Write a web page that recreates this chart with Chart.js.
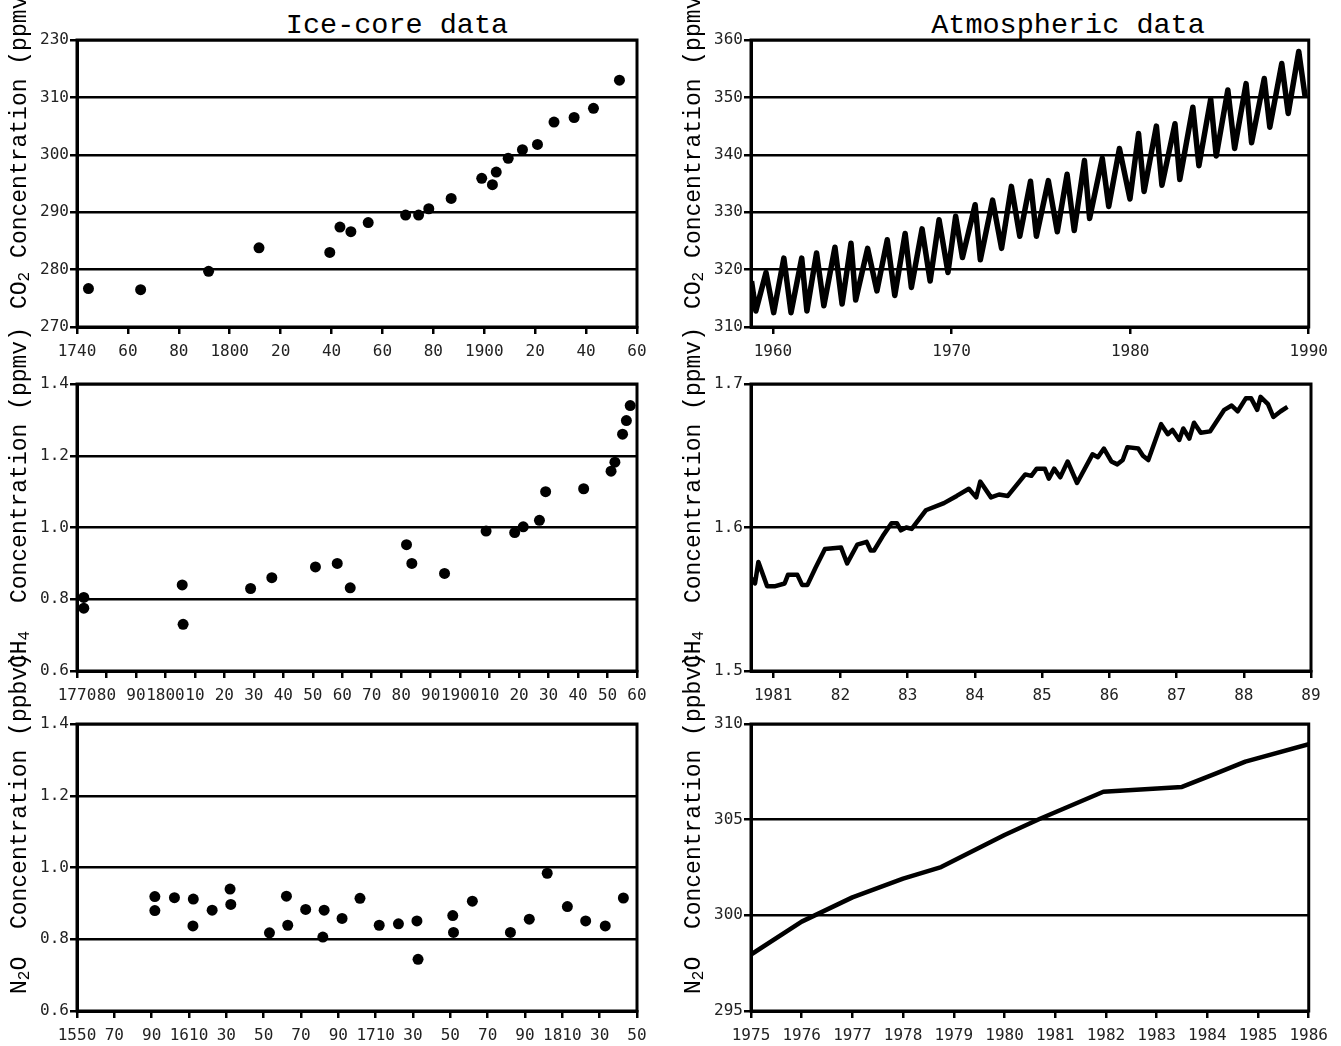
<!DOCTYPE html>
<html>
<head>
<meta charset="utf-8">
<title>Ice-core and atmospheric data</title>
<script src="https://cdn.jsdelivr.net/npm/chart.js@4.4.1/dist/chart.umd.min.js"></script>
<style>
  body { margin: 0; width: 1341px; height: 1046px; background: #fff; position: relative; overflow: hidden; }
  .panel { position: absolute; width: 645px; height: 339px; }
  .col-title { position: absolute; font-family: "Liberation Mono", monospace; font-size: 28.5px; line-height: 1; color: #000; white-space: nowrap; transform: translateX(-50%); }
  .y-title { position: absolute; font-family: "Liberation Mono", monospace; font-size: 23px; line-height: 23px; color: #000; white-space: pre; transform-origin: 0 0; transform: rotate(-90deg); z-index: 2; }
  .y-title sub { font-size: 70%; vertical-align: -0.2em; line-height: 0; }
</style>
</head>
<body>

<div class="col-title" style="left:397px; top:12px">Ice-core data</div>
<div class="col-title" style="left:1068px; top:12px">Atmospheric data</div>

<div class="y-title" style="left:9px; top:309px">CO<sub>2</sub> Concentration (ppmv)</div>
<div class="y-title" style="left:9px; top:668px">CH<sub>4</sub>  Concentration (ppmv)</div>
<div class="y-title" style="left:9px; top:994px">N<sub>2</sub>O  Concentration (ppbv)</div>
<div class="y-title" style="left:683px; top:309px">CO<sub>2</sub> Concentration (ppmv)</div>
<div class="y-title" style="left:683px; top:668px">CH<sub>4</sub>  Concentration (ppmv)</div>
<div class="y-title" style="left:683px; top:994px">N<sub>2</sub>O  Concentration (ppbv)</div>

<div class="panel" style="left:17px; top:28px"><canvas id="iceCo2Chart" width="645" height="339"></canvas></div>
<div class="panel" style="left:691px; top:28px"><canvas id="atmCo2Chart" width="645" height="339"></canvas></div>
<div class="panel" style="left:17px; top:372px"><canvas id="iceCh4Chart" width="645" height="339"></canvas></div>
<div class="panel" style="left:691px; top:372px"><canvas id="atmCh4Chart" width="645" height="339"></canvas></div>
<div class="panel" style="left:17px; top:712px"><canvas id="iceN2oChart" width="645" height="339"></canvas></div>
<div class="panel" style="left:691px; top:712px"><canvas id="atmN2oChart" width="645" height="339"></canvas></div>

<script>

// ice-core CO2 (ppmv)
const iceCo2Years = [1744.5, 1765.0, 1791.7, 1811.5, 1839.3, 1843.3, 1847.6, 1854.4, 1869.1, 1874.2, 1878.2,
  1887.0, 1899.0, 1903.2, 1904.7, 1909.4, 1915.0, 1920.9, 1927.4, 1935.3, 1942.9, 1953.1];
const iceCo2Values = [276.7, 276.5, 279.7, 283.8, 283.0, 287.4, 286.6, 288.2, 289.5, 289.5, 290.6,
  292.4, 295.9, 294.8, 297.0, 299.4, 300.9, 301.8, 305.7, 306.5, 308.1, 313.0];
const iceCo2XTicks = [1740, 1760, 1780, 1800, 1820, 1840, 1860, 1880, 1900, 1920, 1940, 1960];
const iceCo2XLabels = ['1740', '60', '80', '1800', '20', '40', '60', '80', '1900', '20', '40', '60'];
const iceCo2YTicks = [270, 280, 290, 300, 310, 320];
const iceCo2YLabels = ['270', '280', '290', '300', '310', '230'];

// atmospheric CO2 (ppmv), seasonal cycle
const atmCo2Years = [1958.80, 1959.04, 1959.61, 1960.04, 1960.61, 1961.01, 1961.61, 1961.90, 1962.44, 1962.85,
  1963.47, 1963.87, 1964.37, 1964.63, 1965.30, 1965.82, 1966.40, 1966.82, 1967.40, 1967.75,
  1968.35, 1968.80, 1969.30, 1969.80, 1970.23, 1970.61, 1971.32, 1971.61, 1972.30, 1972.80,
  1973.35, 1973.82, 1974.42, 1974.75, 1975.42, 1975.92, 1976.47, 1976.87, 1977.44, 1977.73,
  1978.44, 1978.80, 1979.40, 1979.99, 1980.47, 1980.78, 1981.47, 1981.78, 1982.51, 1982.78,
  1983.51, 1983.85, 1984.51, 1984.82, 1985.47, 1985.85, 1986.49, 1986.80, 1987.51, 1987.82,
  1988.49, 1988.85, 1989.44, 1989.80];
const atmCo2Values = [318.0, 312.8, 319.5, 312.5, 322.0, 312.5, 322.0, 312.8, 322.9, 313.7,
  323.9, 314.0, 324.6, 314.7, 323.7, 316.3, 325.2, 315.5, 326.3, 316.9,
  327.1, 318.0, 328.7, 319.5, 329.3, 322.1, 331.3, 321.7, 332.1, 323.7,
  334.5, 325.8, 335.4, 325.8, 335.5, 326.6, 336.6, 326.8, 339.0, 328.9,
  339.4, 331.0, 341.1, 332.3, 343.7, 333.6, 345.0, 334.7, 345.4, 335.7,
  348.3, 338.1, 349.7, 339.8, 351.3, 341.1, 352.4, 342.1, 353.3, 344.8,
  355.9, 347.2, 358.0, 350.1];
const atmCo2XTicks = [1960, 1970, 1980, 1990];
const atmCo2XLabels = ['1960', '1970', '1980', '1990'];
const atmCo2YTicks = [310, 320, 330, 340, 350, 360];
const atmCo2YLabels = ['310', '320', '330', '340', '350', '360'];

// ice-core CH4 (ppmv)
const iceCh4Years = [1772.3, 1772.3, 1805.7, 1806.0, 1828.9, 1836.1, 1850.9, 1858.3, 1862.7, 1881.8, 1883.6, 1894.7,
  1908.8, 1918.5, 1921.4, 1926.9, 1929.0, 1941.9, 1951.2, 1952.5, 1955.1, 1956.4, 1957.7];
const iceCh4Values = [0.805, 0.775, 0.840, 0.730, 0.830, 0.860, 0.890, 0.900, 0.832, 0.952, 0.900, 0.872,
  0.990, 0.986, 1.002, 1.020, 1.100, 1.108, 1.157, 1.182, 1.260, 1.298, 1.340];
const iceCh4XTicks = [1770, 1780, 1790, 1800, 1810, 1820, 1830, 1840, 1850, 1860,
  1870, 1880, 1890, 1900, 1910, 1920, 1930, 1940, 1950, 1960];
const iceCh4XLabels = ['1770', '80', '90', '1800', '10', '20', '30', '40', '50', '60',
  '70', '80', '90', '1900', '10', '20', '30', '40', '50', '60'];
const iceYTicks = [0.6, 0.8, 1.0, 1.2, 1.4];
const iceYLabels = ['0.6', '0.8', '1.0', '1.2', '1.4'];

// atmospheric CH4 (ppmv)
const atmCh4Years = [1980.67, 1980.73, 1980.78, 1980.91, 1981.02, 1981.17, 1981.22, 1981.36, 1981.43, 1981.51,
  1981.63, 1981.77, 1982.01, 1982.10, 1982.25, 1982.39, 1982.45, 1982.50, 1982.63, 1982.76,
  1982.84, 1982.90, 1982.98, 1983.06, 1983.27, 1983.54, 1983.73, 1983.91, 1984.02, 1984.08,
  1984.24, 1984.36, 1984.49, 1984.75, 1984.84, 1984.92, 1985.04, 1985.10, 1985.18, 1985.27,
  1985.38, 1985.52, 1985.75, 1985.83, 1985.92, 1986.03, 1986.12, 1986.20, 1986.27, 1986.43,
  1986.50, 1986.58, 1986.77, 1986.87, 1986.94, 1987.04, 1987.10, 1987.19, 1987.26, 1987.36,
  1987.50, 1987.71, 1987.82, 1987.91, 1988.03, 1988.11, 1988.20, 1988.25, 1988.36, 1988.44,
  1988.55, 1988.65];
const atmCh4Values = [1.565, 1.561, 1.576, 1.559, 1.559, 1.561, 1.567, 1.567, 1.560, 1.560,
  1.572, 1.585, 1.586, 1.575, 1.588, 1.590, 1.584, 1.584, 1.594, 1.603,
  1.603, 1.598, 1.600, 1.599, 1.612, 1.617, 1.622, 1.627, 1.621, 1.632,
  1.621, 1.623, 1.622, 1.637, 1.636, 1.641, 1.641, 1.634, 1.641, 1.635,
  1.646, 1.631, 1.651, 1.649, 1.655, 1.646, 1.644, 1.647, 1.656, 1.655,
  1.650, 1.647, 1.672, 1.665, 1.668, 1.661, 1.669, 1.662, 1.673, 1.666,
  1.667, 1.682, 1.685, 1.681, 1.690, 1.690, 1.682, 1.691, 1.686, 1.677,
  1.681, 1.684];
const atmCh4XTicks = [1981, 1982, 1983, 1984, 1985, 1986, 1987, 1988, 1989];
const atmCh4XLabels = ['1981', '82', '83', '84', '85', '86', '87', '88', '89'];
const atmCh4YTicks = [1.5, 1.6, 1.7];
const atmCh4YLabels = ['1.5', '1.6', '1.7'];

// ice-core N2O
const iceN2oYears = [1591.7, 1591.7, 1602.2, 1612.3, 1612.1, 1622.4, 1632.0, 1632.4, 1653.1, 1662.2,
  1662.9, 1672.5, 1682.4, 1681.7, 1692.0, 1701.6, 1711.9, 1722.2, 1732.1, 1732.7,
  1751.3, 1751.7, 1761.8, 1782.2, 1792.3, 1801.9, 1812.7, 1822.5, 1833.0, 1842.7];
const iceN2oValues = [0.919, 0.880, 0.916, 0.912, 0.837, 0.881, 0.940, 0.897, 0.818, 0.920,
  0.839, 0.883, 0.881, 0.806, 0.858, 0.914, 0.839, 0.843, 0.851, 0.744,
  0.866, 0.819, 0.906, 0.819, 0.856, 0.984, 0.891, 0.851, 0.837, 0.915];
const iceN2oXTicks = [1550, 1570, 1590, 1610, 1630, 1650, 1670, 1690,
  1710, 1730, 1750, 1770, 1790, 1810, 1830, 1850];
const iceN2oXLabels = ['1550', '70', '90', '1610', '30', '50', '70', '90',
  '1710', '30', '50', '70', '90', '1810', '30', '50'];

// atmospheric N2O (ppbv)
const atmN2oYears = [1975.0, 1976.0, 1977.0, 1978.0, 1978.75, 1980.0, 1980.7, 1981.95, 1983.5, 1984.2, 1984.75, 1986.0];
const atmN2oValues = [297.95, 299.67, 300.94, 301.92, 302.52, 304.20, 305.05, 306.46, 306.71, 307.45, 308.03, 308.94];
const atmN2oXTicks = [1975, 1976, 1977, 1978, 1979, 1980, 1981, 1982, 1983, 1984, 1985, 1986];
const atmN2oXLabels = ['1975', '1976', '1977', '1978', '1979', '1980', '1981', '1982', '1983', '1984', '1985', '1986'];
const atmN2oYTicks = [295, 300, 305, 310];
const atmN2oYLabels = ['295', '300', '305', '310'];


Chart.defaults.font.family = "'DejaVu Sans Mono', monospace";
Chart.defaults.font.size = 16;
Chart.defaults.color = '#222';

// right and top edge of the plot box
const framePlugin = {
  id: 'frame',
  afterDraw(chart) {
    const { ctx, chartArea } = chart;
    ctx.save();
    ctx.strokeStyle = '#000';
    ctx.lineWidth = 3;
    ctx.strokeRect(chartArea.left, chartArea.top, chartArea.right - chartArea.left, chartArea.bottom - chartArea.top);
    ctx.restore();
  }
};

function toPoints(xs, ys){
  return xs.map((x, i) => ({ x: x, y: ys[i] }));
}

function buildScales(xMin, xMax, xTicks, xLabels, yMin, yMax, yTicks, yLabels){

  return {

    x: {
      type: 'linear',
      min: xMin,
      max: xMax,
      afterBuildTicks: s => { s.ticks = xTicks.map(v => ({ value: v })); },
      afterFit: s => { s.height = 40; },
      ticks: {
        autoSkip: false,
        maxRotation: 0,
        minRotation: 0,
        padding: 8,
        callback: (v, i) => xLabels[i]
      },
      grid: { drawOnChartArea: false, tickLength: 7, color: '#000', lineWidth: 2.5 },
      border: { color: '#000', width: 3 }
    },

    y: {
      type: 'linear',
      min: yMin,
      max: yMax,
      afterBuildTicks: s => { s.ticks = yTicks.map(v => ({ value: v })); },
      afterFit: s => { s.width = 60; },
      ticks: {
        padding: 1,
        callback: (v, i) => yLabels[i]
      },
      grid: { tickLength: 7, color: '#000', lineWidth: 2.5 },
      border: { color: '#000', width: 3 }
    }

  };

}

function makeChart(id, dataset, scales){

  new Chart(document.getElementById(id), {
    type: 'scatter',
    data: { datasets: [dataset] },
    options: {
      responsive: false,
      animation: false,
      layout: { padding: { top: 12, right: 25, bottom: 0, left: 0 } },
      plugins: { legend: { display: false }, tooltip: { enabled: false } },
      scales: scales
    },
    plugins: [framePlugin]
  });

}

function dots(xs, ys){
  return {
    data: toPoints(xs, ys),
    showLine: false,
    pointRadius: 5.5,
    pointBackgroundColor: '#000',
    pointBorderWidth: 0
  };
}

function curve(xs, ys, width){
  return {
    data: toPoints(xs, ys),
    showLine: true,
    pointRadius: 0,
    borderColor: '#000',
    borderWidth: width,
    borderJoinStyle: 'round',
    tension: 0
  };
}

function loadCharts(){

  makeChart('iceCo2Chart', dots(iceCo2Years, iceCo2Values),
    buildScales(1740, 1960, iceCo2XTicks, iceCo2XLabels, 270, 320, iceCo2YTicks, iceCo2YLabels));

  makeChart('atmCo2Chart', curve(atmCo2Years, atmCo2Values, 5.5),
    buildScales(1958.77, 1990, atmCo2XTicks, atmCo2XLabels, 310, 360, atmCo2YTicks, atmCo2YLabels));

  makeChart('iceCh4Chart', dots(iceCh4Years, iceCh4Values),
    buildScales(1770, 1960, iceCh4XTicks, iceCh4XLabels, 0.6, 1.4, iceYTicks, iceYLabels));

  makeChart('atmCh4Chart', curve(atmCh4Years, atmCh4Values, 4.5),
    buildScales(1980.67, 1989, atmCh4XTicks, atmCh4XLabels, 1.5, 1.7, atmCh4YTicks, atmCh4YLabels));

  makeChart('iceN2oChart', dots(iceN2oYears, iceN2oValues),
    buildScales(1550, 1850, iceN2oXTicks, iceN2oXLabels, 0.6, 1.4, iceYTicks, iceYLabels));

  makeChart('atmN2oChart', curve(atmN2oYears, atmN2oValues, 4.5),
    buildScales(1975, 1986, atmN2oXTicks, atmN2oXLabels, 295, 310, atmN2oYTicks, atmN2oYLabels));

}

loadCharts();

</script>
</body>
</html>
